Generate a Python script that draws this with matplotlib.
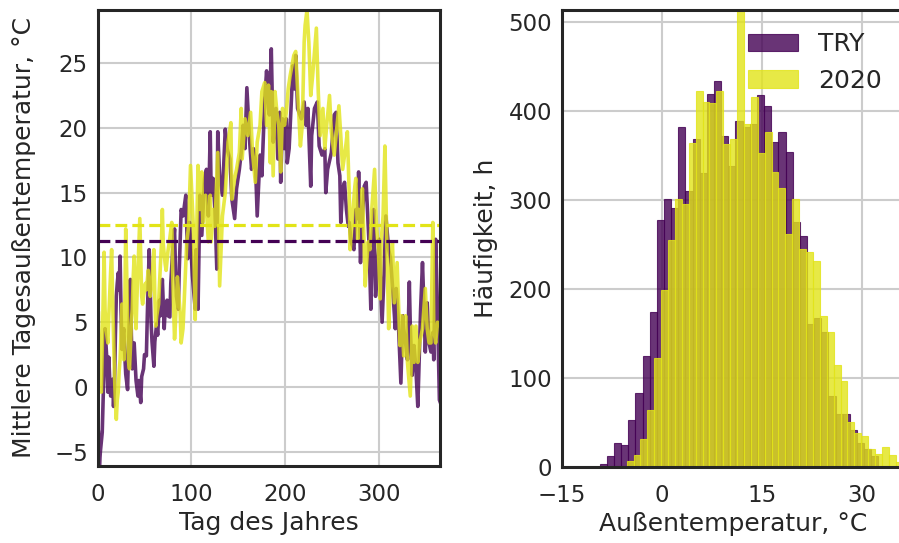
import matplotlib
matplotlib.use('Agg')
import numpy as np
import matplotlib.pyplot as plt

# Daily mean outdoor temperature (at selected days)
try_days = [1, 2, 3, 5, 7, 8, 10, 11, 12, 13,
            14, 16, 17, 18, 19, 20, 21, 22, 23, 24,
            25, 26, 27, 28, 29, 30, 32, 33, 35, 36,
            37, 38, 39, 41, 43, 44, 46, 47, 49, 50,
            52, 53, 55, 56, 57, 58, 60, 61, 63, 64,
            66, 67, 69, 70, 71, 72, 74, 75, 77, 78,
            80, 82, 83, 84, 86, 87, 89, 91, 94, 96,
            98, 101, 104, 105, 107, 109, 111, 114, 116, 118,
            120, 121, 123, 125, 127, 128, 130, 133, 136, 138,
            141, 143, 146, 148, 151, 153, 155, 157, 159, 162,
            164, 166, 168, 170, 173, 175, 178, 180, 182, 183,
            185, 187, 190, 192, 194, 195, 197, 199, 201, 202,
            204, 206, 208, 210, 211, 213, 217, 220, 222, 224,
            227, 228, 231, 234, 236, 239, 242, 243, 245, 249,
            252, 254, 256, 258, 259, 261, 263, 265, 267, 268,
            270, 273, 275, 277, 278, 280, 282, 284, 286, 289,
            291, 292, 294, 296, 298, 300, 301, 303, 305, 307,
            310, 312, 315, 317, 318, 320, 323, 325, 326, 328,
            330, 332, 333, 335, 337, 339, 341, 342, 344, 346,
            348, 349, 351, 353, 355, 357, 358, 360, 362, 364,
            365]
try_temp = [-3.5, -6.1, -5.0, -3.5, 2.0, 4.5, 2.0, -0.4, 2.3, 0.5,
            -0.7, 0.6, -1.5, 0.0, 4.0, 7.0, 8.0, 8.8, 7.5, 10.1,
            6.0, 2.9, 4.0, 4.5, 2.5, 1.0, -0.2, 3.0, 8.3, 4.0,
            1.4, 2.0, 3.4, 0.5, -0.7, 0.5, -1.2, 0.8, 1.4, 2.5,
            2.4, 5.5, 10.6, 8.0, 5.0, 3.5, 1.6, 3.5, 4.9, 4.0,
            6.7, 5.5, 8.3, 6.5, 4.5, 6.0, 6.7, 5.5, 5.4, 8.0,
            10.5, 12.2, 9.0, 7.0, 6.0, 9.0, 13.7, 13.2, 14.8, 9.9,
            12.7, 8.6, 6.0, 10.6, 6.0, 14.8, 11.7, 16.1, 16.8, 13.2,
            19.7, 14.8, 16.1, 13.7, 9.1, 19.7, 16.3, 14.8, 19.9, 18.4,
            17.6, 14.5, 13.0, 15.3, 16.8, 18.1, 20.2, 18.4, 23.1, 18.9,
            16.8, 18.4, 17.6, 13.2, 17.9, 16.3, 22.2, 24.4, 21.5, 21.0,
            26.1, 18.9, 21.5, 17.6, 21.2, 15.8, 20.7, 18.4, 20.7, 17.3,
            18.4, 21.5, 24.8, 23.0, 25.6, 21.5, 20.7, 22.0, 20.2, 21.5,
            15.5, 19.4, 21.5, 22.0, 18.6, 17.9, 18.4, 15.0, 16.8, 18.1,
            21.0, 21.2, 17.3, 16.3, 12.7, 15.3, 15.8, 13.7, 12.4, 12.7,
            11.2, 10.6, 13.7, 13.0, 16.6, 9.6, 13.2, 15.5, 15.8, 11.2,
            6.0, 9.9, 13.7, 7.0, 9.1, 11.4, 8.6, 5.0, 8.6, 13.2,
            10.6, 9.9, 6.8, 4.5, 7.6, 5.5, 0.3, 5.5, 4.5, 3.4,
            2.1, 8.1, 4.7, 0.9, 3.2, 1.4, -1.5, 0.9, 6.0, 9.6,
            5.2, 2.7, 6.5, 3.4, 2.7, 4.2, 2.1, 11.4, 6.0, -1.0,
            -1.2]

y2020_days = [1, 2, 4, 5, 7, 8, 9, 11, 12, 13,
              14, 15, 16, 17, 18, 19, 20, 21, 22, 23,
              24, 25, 26, 27, 28, 29, 30, 31, 32, 33,
              34, 35, 36, 37, 38, 39, 40, 41, 42, 44,
              45, 46, 47, 48, 49, 51, 52, 54, 55, 56,
              58, 59, 60, 61, 62, 63, 65, 66, 68, 69,
              70, 72, 73, 75, 77, 79, 80, 81, 82, 83,
              85, 86, 88, 89, 91, 95, 97, 99, 102, 104,
              105, 107, 109, 111, 112, 115, 118, 120, 121, 123,
              125, 128, 130, 133, 136, 139, 142, 143, 146, 148,
              151, 153, 154, 157, 160, 163, 165, 168, 170, 173,
              175, 178, 180, 182, 184, 185, 187, 189, 191, 193,
              195, 197, 199, 201, 203, 205, 207, 209, 211, 214,
              216, 218, 220, 221, 223, 225, 227, 229, 231, 233,
              235, 237, 240, 242, 244, 247, 249, 252, 255, 257,
              259, 261, 264, 266, 268, 269, 272, 274, 275, 277,
              278, 280, 282, 284, 285, 288, 290, 292, 295, 297,
              299, 301, 302, 304, 306, 308, 310, 312, 314, 316,
              319, 322, 324, 326, 328, 330, 333, 335, 337, 339,
              341, 343, 346, 348, 349, 351, 353, 355, 357, 358,
              360, 362, 365]
y2020_temp = [5.7, 2.0, -0.4, 3.0, 10.4, 6.0, 4.5, 3.4, 5.5, 7.3,
              9.0, 10.6, 7.0, 4.0, 1.0, -1.0, -2.5, -1.0, -0.4, 1.2,
              2.1, 4.0, 6.4, 3.5, 2.1, 6.0, 12.2, 9.0, 4.7, 2.0,
              1.4, 3.0, 5.0, 6.0, 8.5, 10.1, 7.0, 4.5, 7.0, 11.0,
              13.0, 10.0, 7.0, 6.4, 7.0, 8.0, 7.5, 9.0, 8.0, 7.0,
              8.0, 9.5, 10.6, 7.0, 4.7, 5.5, 6.4, 8.0, 11.0, 13.7,
              11.0, 9.5, 9.0, 10.5, 11.5, 12.7, 9.0, 6.0, 3.7, 5.0,
              8.5, 7.5, 5.7, 3.4, 4.5, 11.2, 12.4, 17.1, 12.4, 5.2,
              9.9, 17.1, 13.7, 16.6, 12.7, 14.8, 11.2, 14.8, 11.2, 13.7,
              12.4, 18.1, 7.8, 13.2, 15.0, 18.9, 20.4, 14.5, 16.1, 16.8,
              18.1, 21.5, 17.6, 20.7, 19.4, 21.2, 18.1, 15.8, 18.9, 20.2,
              22.8, 23.5, 20.2, 23.3, 17.3, 22.8, 16.3, 22.8, 21.2, 20.2,
              16.6, 21.5, 20.2, 21.2, 23.0, 24.0, 24.8, 25.6, 25.9, 21.5,
              18.6, 20.2, 26.6, 27.9, 29.1, 26.6, 22.5, 24.0, 25.9, 27.7,
              22.8, 19.4, 21.5, 18.4, 20.2, 22.5, 19.7, 17.9, 20.2, 21.7,
              19.4, 16.8, 18.4, 19.7, 14.8, 10.6, 13.7, 15.5, 16.1, 11.4,
              13.7, 12.4, 15.3, 10.6, 7.8, 11.2, 10.6, 13.7, 16.8, 12.4,
              10.6, 6.8, 11.2, 13.2, 18.6, 11.2, 4.5, 8.6, 11.2, 6.5,
              9.6, 3.2, 5.5, 2.4, 5.5, 1.9, -0.7, 4.7, 1.9, 4.7,
              1.9, 3.4, 4.5, 6.5, 7.6, 4.5, 3.4, 3.4, 12.7, 4.5,
              3.4, 5.0, 4.7]

# annual means (dashed lines)
try_mean = 11.3
y2020_mean = 12.5

# Hourly outdoor temperature histogram
try_bin_start = -9.35
try_bin_width = 1.0725
try_counts = [3, 12, 27, 25, 53, 83, 125, 174, 277, 301,
              291, 382, 310, 368, 330, 419, 433, 371, 338, 388,
              382, 385, 418, 405, 365, 376, 354, 275, 259, 161,
              167, 152, 80, 59, 59, 41, 27, 20, 12]

y2020_bin_start = -5.3
y2020_bin_width = 1.035
y2020_counts = [7, 13, 31, 64, 122, 199, 255, 301, 295, 364,
                422, 410, 409, 422, 363, 368, 620, 385, 415, 353,
                376, 331, 313, 262, 301, 245, 241, 231, 170, 151,
                115, 97, 51, 38, 35, 20, 15, 22, 13, 6]

c_try = '#440154'
c_2020 = '#e2e418'

plt.rcParams.update({
    'font.family': 'DejaVu Sans',
    'font.size': 18,
    'axes.labelsize': 18,
    'xtick.labelsize': 16.5,
    'ytick.labelsize': 16.5,
    'legend.fontsize': 18,
    'text.color': '#262626',
    'axes.labelcolor': '#262626',
    'xtick.color': '#262626',
    'ytick.color': '#262626',
    'axes.edgecolor': '#262626',
    'axes.linewidth': 2.2,
    'grid.color': '#cccccc',
    'grid.linewidth': 1.5,
    'xtick.major.size': 0,
    'ytick.major.size': 0,
    'xtick.major.pad': 12,
    'ytick.major.pad': 7,
    'axes.axisbelow': True,
})

fig = plt.figure(figsize=(8.99, 5.43), dpi=100)
ax1 = fig.add_axes([0.1085, 0.1418, 0.3813, 0.8398])
ax2 = fig.add_axes([0.6251, 0.1400, 0.3804, 0.8416])

# left: daily mean temperature over the year
ax1.plot(try_days, try_temp, color=c_try, alpha=0.8, lw=2.6)
ax1.plot(y2020_days, y2020_temp, color=c_2020, alpha=0.8, lw=2.6)
ax1.axhline(try_mean, color=c_try, ls='--', lw=2.3)
ax1.axhline(y2020_mean, color=c_2020, ls='--', lw=2.3)
ax1.set_xlim(0, 365)
ax1.set_ylim(-6.1, 29.1)
ax1.set_xticks([0, 100, 200, 300])
ax1.set_yticks([-5, 0, 5, 10, 15, 20, 25])
ax1.grid(True)
ax1.set_xlabel('Tag des Jahres')
ax1.set_ylabel('Mittlere Tagesaußentemperatur, °C', labelpad=13)

# right: histogram of hourly temperatures
try_edges = try_bin_start + try_bin_width * np.arange(len(try_counts) + 1)
y2020_edges = y2020_bin_start + y2020_bin_width * np.arange(len(y2020_counts) + 1)
ax2.hist(try_edges[:-1] + try_bin_width / 2, bins=try_edges, weights=try_counts,
         color=c_try, alpha=0.8, edgecolor=c_try, linewidth=0.8, label='TRY')
ax2.hist(y2020_edges[:-1] + y2020_bin_width / 2, bins=y2020_edges, weights=y2020_counts,
         color=c_2020, alpha=0.8, edgecolor=c_2020, linewidth=0.8, label='2020')
ax2.set_xlim(-15, 36.3)
ax2.set_ylim(0, 513)
ax2.set_xticks([-15, 0, 15, 30])
ax2.set_yticks([0, 100, 200, 300, 400, 500])
ax2.grid(True)
ax2.set_xlabel('Außentemperatur, °C')
ax2.set_ylabel('Häufigkeit, h', labelpad=8)
ax2.legend(loc='upper right', frameon=False)

fig.savefig('out.png', dpi=100)
